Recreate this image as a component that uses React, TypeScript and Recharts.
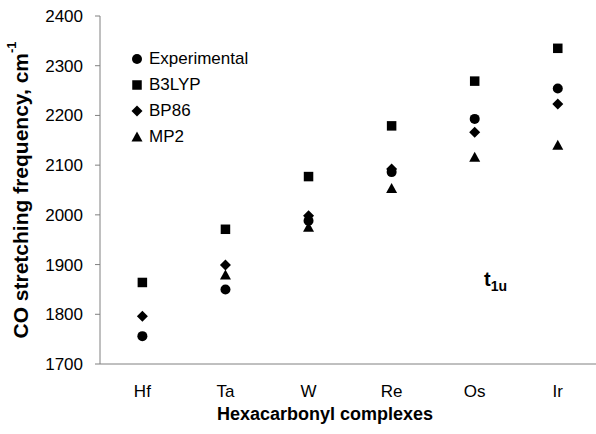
import {
  ScatterChart,
  Scatter,
  XAxis,
  YAxis,
  Label,
} from "recharts";

const complexes = ["Hf", "Ta", "W", "Re", "Os", "Ir"];
const experimental = [1756, 1850, 1988, 2086, 2193, 2254];
const b3lyp = [1864, 1971, 2077, 2179, 2269, 2335];
const bp86 = [1796, 1899, 1998, 2092, 2166, 2223];
const mp2 = [null, 1879, 1975, 2053, 2116, 2140];
const yTicks = [1700, 1800, 1900, 2000, 2100, 2200, 2300, 2400];

const FONT = "'Liberation Sans', Arial, sans-serif";
const AXIS = "#808080";

const toPoints = (values: (number | null)[]) =>
  values
    .map((v, i) => ({ x: i, y: v }))
    .filter((p) => p.y !== null);

type ShapeProps = { cx?: number; cy?: number };

const CircleShape = ({ cx = 0, cy = 0 }: ShapeProps) => (
  <circle cx={cx} cy={cy} r={5} fill="#000" />
);
const SquareShape = ({ cx = 0, cy = 0 }: ShapeProps) => (
  <rect x={cx - 4.75} y={cy - 4.75} width={9.5} height={9.5} fill="#000" />
);
const DiamondShape = ({ cx = 0, cy = 0 }: ShapeProps) => (
  <polygon
    points={`${cx},${cy - 5.5} ${cx + 5.5},${cy} ${cx},${cy + 5.5} ${cx - 5.5},${cy}`}
    fill="#000"
  />
);
const TriangleShape = ({ cx = 0, cy = 0 }: ShapeProps) => (
  <polygon
    points={`${cx},${cy - 5.5} ${cx + 5.5},${cy + 4.5} ${cx - 5.5},${cy + 4.5}`}
    fill="#000"
  />
);

const series = [
  { name: "Experimental", values: experimental, shape: CircleShape },
  { name: "B3LYP", values: b3lyp, shape: SquareShape },
  { name: "BP86", values: bp86, shape: DiamondShape },
  { name: "MP2", values: mp2, shape: TriangleShape },
];

// legend drawn as an overlay so it doesn't shrink the plot area
const LegendBox = () => (
  <div
    style={{
      position: "absolute",
      left: 130,
      top: 46,
      fontFamily: FONT,
      fontSize: 17,
      color: "#000",
    }}
  >
    {series.map((s) => {
      const Shape = s.shape;
      return (
        <div key={s.name} style={{ height: 26, display: "flex", alignItems: "center" }}>
          <svg width={14} height={14} style={{ marginRight: 5 }}>
            <Shape cx={7} cy={7} />
          </svg>
          <span>{s.name}</span>
        </div>
      );
    })}
  </div>
);

const renderYLabel = () => (
  <text
    x={20}
    y={190}
    transform="rotate(-90, 20, 190)"
    textAnchor="middle"
    dominantBaseline="central"
    fontFamily={FONT}
    fontWeight="bold"
    fontSize={21}
    fill="#000"
  >
    CO stretching frequency, cm
    <tspan dy={-9} fontSize={13}>-1</tspan>
  </text>
);

export default function App() {
  return (
    <div style={{ position: "relative", width: 596, height: 434, background: "#fff" }}>
      <style>{"body{margin:0}"}</style>
      <ScatterChart
        width={596}
        height={434}
        margin={{ top: 16, right: 0, left: 0, bottom: 0 }}
      >
        <XAxis
          type="number"
          dataKey="x"
          domain={[-0.51, 5.46]}
          ticks={[0, 1, 2, 3, 4, 5]}
          tickFormatter={(v: number) => complexes[v]}
          tickLine={false}
          tickSize={0}
          tickMargin={21}
          height={70}
          axisLine={{ stroke: AXIS }}
          tick={{ fill: "#000", fontSize: 17, fontFamily: FONT }}
        >
          <Label
            value="Hexacarbonyl complexes"
            position="insideBottom"
            offset={14}
            dx={-23}
            style={{ fontFamily: FONT, fontWeight: "bold", fontSize: 18, fill: "#000" }}
          />
        </XAxis>
        <YAxis
          type="number"
          dataKey="y"
          domain={[1700, 2400]}
          ticks={yTicks}
          width={100}
          tickSize={5}
          tickMargin={12}
          axisLine={{ stroke: AXIS }}
          tickLine={{ stroke: AXIS }}
          tick={{ fill: "#000", fontSize: 17, fontFamily: FONT }}
        >
          <Label content={renderYLabel} />
        </YAxis>
        {series.map((s) => (
          <Scatter
            key={s.name}
            name={s.name}
            data={toPoints(s.values)}
            shape={s.shape}
            isAnimationActive={false}
          />
        ))}
      </ScatterChart>
      <LegendBox />
      <div
        style={{
          position: "absolute",
          left: 484,
          top: 268,
          fontFamily: FONT,
          fontWeight: "bold",
          fontSize: 20,
          color: "#000",
        }}
      >
        t<sub style={{ fontSize: 14 }}>1u</sub>
      </div>
    </div>
  );
}
